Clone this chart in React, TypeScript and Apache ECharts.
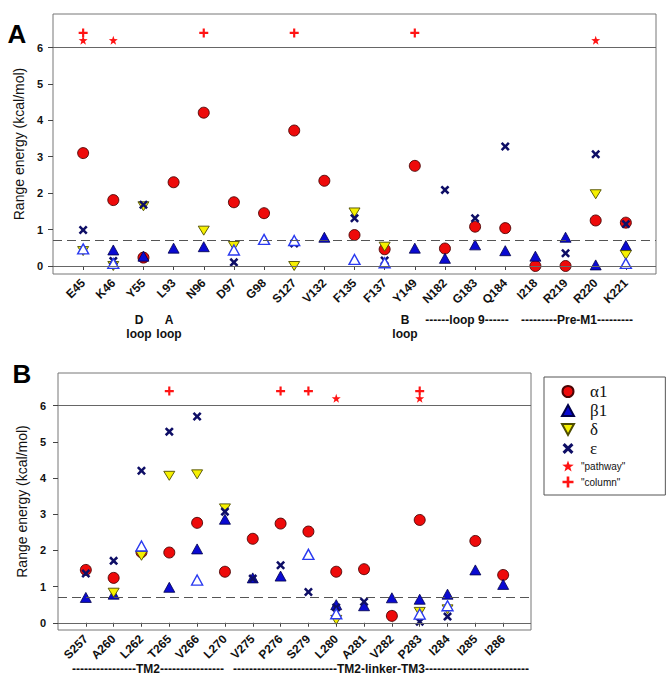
import React, { useEffect, useRef } from 'react';
import * as echarts from 'echarts';

// ---------- Panel A data ----------
const catsA = ['E45', 'K46', 'Y55', 'L93', 'N96', 'D97', 'G98', 'S127', 'V132', 'F135', 'F137', 'Y149', 'N182', 'G183', 'Q184', 'I218', 'R219', 'R220', 'K221'];
const alphaA = [3.10, 1.81, 0.23, 2.30, 4.21, 1.75, 1.45, 3.72, 2.34, 0.85, 0.46, 2.75, 0.48, 1.08, 1.04, 0.0, 0.0, 1.25, 1.19];
const betaA = [null, 0.44, 0.27, 0.49, 0.53, null, null, null, 0.79, null, null, 0.49, 0.21, 0.58, 0.42, 0.27, 0.79, 0.03, 0.56];
const betaOpenA = [0.47, 0.07, null, null, null, 0.44, 0.73, 0.70, null, 0.18, 0.09, null, null, null, null, null, null, null, 0.07];
const deltaA = [0.41, 0.0, 1.64, null, 0.97, 0.55, null, 0.0, null, 1.47, 0.53, null, null, null, null, null, null, 1.97, 0.30];
const epsA = [0.99, 0.14, 1.68, null, null, 0.10, null, 0.62, null, 1.31, 0.15, null, 2.09, 1.31, 3.28, null, 0.35, 3.07, 1.15];
const pathwayA = [6.2, 6.2, null, null, null, null, null, null, null, null, null, null, null, null, null, null, null, 6.2, null];
const columnA = [6.4, null, null, null, 6.4, null, null, 6.4, null, null, null, 6.4, null, null, null, null, null, null, null];

// ---------- Panel B data ----------
const catsB = ['S257', 'A260', 'L262', 'T265', 'V266', 'L270', 'V275', 'P276', 'S279', 'L280', 'A281', 'V282', 'P283', 'I284', 'I285', 'I286'];
const alphaB = [1.46, 1.24, 1.95, 1.94, 2.76, 1.41, 2.32, 2.74, 2.52, 1.41, 1.48, 0.19, 2.84, null, 2.26, 1.32];
const betaB = [0.70, 0.79, null, 0.98, 2.04, 2.86, 1.24, 1.29, null, 0.50, 0.47, 0.69, 0.65, 0.79, 1.46, 1.06];
const betaOpenB = [null, null, 2.12, null, 1.18, null, null, null, 1.89, 0.25, null, null, 0.24, 0.47, null, null];
const deltaB = [null, 0.83, 1.85, 4.06, 4.10, 3.16, null, null, null, 0.08, null, null, 0.30, 0.37, null, null];
const epsB = [1.36, 1.71, 4.20, 5.28, 5.70, 3.07, 1.22, 1.59, 0.85, 0.42, 0.58, null, 0.03, 0.17, null, null];
const pathwayB = [null, null, null, null, null, null, null, null, null, 6.2, null, null, 6.2, null, null, null];
const columnB = [null, null, null, 6.4, null, null, null, 6.4, 6.4, null, null, null, 6.4, null, null, null];

const yTicks = [0, 1, 2, 3, 4, 5, 6];
const cutoff = 0.7;

// ---------- symbols ----------
const X_PATH = 'path://M0,2 L2,0 L5,3 L8,0 L10,2 L7,5 L10,8 L8,10 L5,7 L2,10 L0,8 L3,5 Z';
const PLUS_PATH = 'path://M3.8,0 L6.2,0 L6.2,3.8 L10,3.8 L10,6.2 L6.2,6.2 L6.2,10 L3.8,10 L3.8,6.2 L0,6.2 L0,3.8 L3.8,3.8 Z';
const STAR_PATH = 'path://M100,0 L123.5,67.6 L195.1,69.1 L138,112.4 L158.8,180.9 L100,140 L41.2,180.9 L62,112.4 L4.9,69.1 L76.5,67.6 Z';
const INV_TRI = 'path://M0,0 L10,0 L5,9 Z';

const FONT = 'Liberation Sans, Arial, sans-serif';
const SERIF = 'Liberation Serif, Times New Roman, serif';

const styles: Record<string, any> = {
  'α1': { symbol: 'circle', symbolSize: 11, itemStyle: { color: '#ee0a0a', borderColor: '#4a0505', borderWidth: 0.9, opacity: 1 } },
  'β1': { symbol: 'triangle', symbolSize: [11, 10], itemStyle: { color: '#0a0ad2', borderColor: '#00004a', borderWidth: 0.8, opacity: 1 } },
  'β1 open': { symbol: 'triangle', symbolSize: [11, 10], itemStyle: { color: '#ffffff', borderColor: '#2a3af0', borderWidth: 1.4, opacity: 1 } },
  'δ': { symbol: INV_TRI, symbolSize: [11, 9], itemStyle: { color: '#f6f000', borderColor: '#4e4c00', borderWidth: 0.9, opacity: 1 } },
  'ε': { symbol: X_PATH, symbolSize: 9, itemStyle: { color: '#0e0e66', opacity: 1 } },
  '"pathway"': { symbol: STAR_PATH, symbolSize: 9, itemStyle: { color: '#ff1414', opacity: 1 } },
  '"column"': { symbol: PLUS_PATH, symbolSize: 9, itemStyle: { color: '#ff1414', opacity: 1 } },
};

function mkSeries(name: string, arr: (number | null)[], idx: number, extra: any = {}) {
  const data = arr.map((v, i) => (v == null ? null : [i + 1, v])).filter((d) => d !== null);
  return {
    type: 'scatter',
    name,
    xAxisIndex: idx,
    yAxisIndex: idx,
    data,
    ...styles[name],
    emphasis: { disabled: true },
    ...extra,
  };
}

function refLines() {
  return {
    markLine: {
      silent: true,
      symbol: ['none', 'none'],
      label: { show: false },
      lineStyle: { color: '#666', width: 1, type: 'solid', opacity: 1 },
      data: [
        { yAxis: 0 },
        { yAxis: 6 },
        { yAxis: cutoff, lineStyle: { color: '#555', width: 1, type: [9, 5], opacity: 1 } },
      ],
    },
  };
}

function xAxis(cats: string[], idx: number) {
  const vals = cats.map((_, i) => i + 1);
  return {
    type: 'value',
    gridIndex: idx,
    min: 0,
    max: cats.length + 1,
    offset: 3,
    axisLine: { show: false },
    splitLine: { show: false },
    axisTick: { show: true, length: 4, customValues: vals, lineStyle: { color: '#444' } },
    axisLabel: {
      customValues: vals,
      formatter: (v: number) => cats[v - 1] || '',
      rotate: 45,
      margin: 4,
      fontSize: 12,
      fontWeight: 'bold',
      color: '#111',
      fontFamily: FONT,
    },
  };
}

function yAxis(idx: number, min: number, max: number, gap: number, margin: number) {
  return {
    type: 'value',
    gridIndex: idx,
    min,
    max,
    axisLine: { show: false },
    splitLine: { show: false },
    axisTick: { show: true, length: 5, customValues: yTicks, lineStyle: { color: '#444' } },
    axisLabel: { customValues: yTicks, fontSize: 11, fontWeight: 'bold', color: '#111', margin, fontFamily: FONT },
    name: 'Range energy (kcal/mol)',
    nameLocation: 'middle',
    nameRotate: 90,
    nameGap: gap,
    nameTextStyle: { fontSize: 14, color: '#111', fontFamily: FONT },
  };
}

function txt(x: number, y: number, text: string, size = 12, align = 'center') {
  return {
    type: 'text',
    x,
    y,
    silent: true,
    style: {
      text,
      fontSize: size,
      fontWeight: 'bold',
      fontFamily: FONT,
      fill: '#111',
      align,
      verticalAlign: 'top',
      lineHeight: 14,
    },
  };
}

const dashes = (n: number) => '-'.repeat(n);

export default function App() {
  const ref = useRef<HTMLDivElement>(null);
  useEffect(() => {
    const chart = echarts.init(ref.current!, null, { renderer: 'svg' });
    const names = ['α1', 'β1', 'δ', 'ε', '"pathway"', '"column"'];
    const icons: Record<string, string> = {
      'α1': 'circle',
      'β1': 'triangle',
      'δ': INV_TRI,
      'ε': X_PATH,
      '"pathway"': STAR_PATH,
      '"column"': PLUS_PATH,
    };
    const option: any = {
      animation: false,
      backgroundColor: '#fff',
      textStyle: { fontFamily: FONT },
      grid: [
        { left: 53, top: 14, width: 603, height: 260, show: true, borderColor: '#777', borderWidth: 1, backgroundColor: 'transparent' },
        { left: 58, top: 373, width: 473, height: 257, show: true, borderColor: '#777', borderWidth: 1, backgroundColor: 'transparent' },
      ],
      xAxis: [xAxis(catsA, 0), xAxis(catsB, 1)],
      yAxis: [yAxis(0, -0.22, 6.92, 27, 10), yAxis(1, -0.2, 6.9, 26, 12)],
      legend: {
        orient: 'vertical',
        left: 544,
        top: 377,
        padding: [6, 40, 6, 17],
        itemGap: 2,
        itemWidth: 12,
        itemHeight: 11,
        borderColor: '#555',
        borderWidth: 1,
        backgroundColor: '#fff',
        selectedMode: false,
        data: names.map((n) => {
          const greek = !n.startsWith('"');
          return {
            name: n,
            icon: icons[n],
            textStyle: greek
              ? { fontFamily: SERIF, fontSize: 17, color: '#111', lineHeight: 16, padding: [0, 0, 0, 11] }
              : { fontFamily: FONT, fontSize: 10, color: '#111', lineHeight: 14, padding: [0, 0, 0, 2] },
          };
        }),
      },
      series: [
        mkSeries('α1', alphaA, 0, refLines()),
        mkSeries('β1', betaA, 0),
        mkSeries('δ', deltaA, 0),
        mkSeries('ε', epsA, 0),
        mkSeries('β1 open', betaOpenA, 0),
        mkSeries('"pathway"', pathwayA, 0),
        mkSeries('"column"', columnA, 0),
        mkSeries('α1', alphaB, 1, refLines()),
        mkSeries('β1', betaB, 1),
        mkSeries('δ', deltaB, 1),
        mkSeries('ε', epsB, 1),
        mkSeries('β1 open', betaOpenB, 1),
        mkSeries('"pathway"', pathwayB, 1),
        mkSeries('"column"', columnB, 1),
      ],
      graphic: [
        { type: 'text', x: 17, y: 34, silent: true, style: { text: 'A', fontSize: 26, fontWeight: 'bold', fontFamily: FONT, fill: '#000', align: 'center', verticalAlign: 'middle' } },
        { type: 'text', x: 22, y: 374, silent: true, style: { text: 'B', fontSize: 26, fontWeight: 'bold', fontFamily: FONT, fill: '#000', align: 'center', verticalAlign: 'middle' } },
        txt(139, 313, 'D\nloop'),
        txt(169, 313, 'A\nloop'),
        txt(405, 313, 'B\nloop'),
        txt(467, 313, dashes(6) + 'loop 9' + dashes(6)),
        txt(577, 313, dashes(9) + 'Pre-M1' + dashes(9)),
        txt(148, 662, dashes(16) + 'TM2' + dashes(16)),
        txt(381, 662, dashes(26) + 'TM2-linker-TM3' + dashes(26)),
      ],
    };
    chart.setOption(option);
    return () => chart.dispose();
  }, []);
  return <div ref={ref} style={{ position: 'fixed', left: 0, top: 0, width: 668, height: 680, background: '#fff' }} />;
}
